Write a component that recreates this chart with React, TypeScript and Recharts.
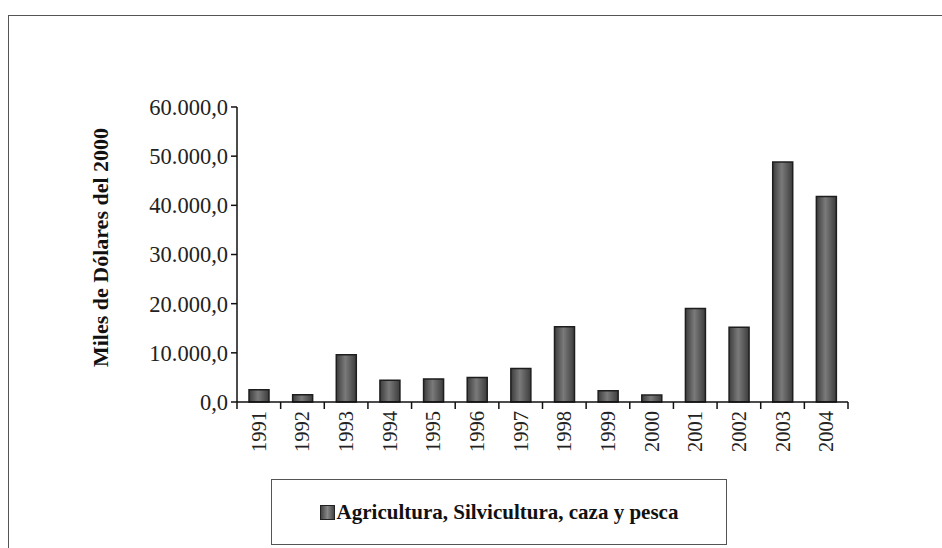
import React from 'react';
import { BarChart, Bar, XAxis, YAxis, Legend } from 'recharts';

const years = ['1991', '1992', '1993', '1994', '1995', '1996', '1997', '1998', '1999', '2000', '2001', '2002', '2003', '2004'];
const agricultura = [2500, 1450, 9600, 4400, 4700, 5000, 6800, 15300, 2300, 1400, 19000, 15200, 48800, 41800];
const yTicks = [0, 10000, 20000, 30000, 40000, 50000, 60000];
const seriesName = 'Agricultura, Silvicultura, caza y pesca';
const yLabel = 'Miles de Dólares del 2000';

const data = years.map((y, i) => ({ year: y, value: agricultura[i] }));

const FONT = '"Liberation Serif", "DejaVu Serif", serif';

function fmt(v: number): string {
  const int = Math.round(v).toString().replace(/\B(?=(\d{3})+(?!\d))/g, '.');
  return int + ',0';
}

const XTick = (props: any) => {
  const { x, y, payload, index, visibleTicksCount } = props;
  const half = payload && payload.offset ? payload.offset : 0;
  const isLast = index === visibleTicksCount - 1;
  return (
    <g>
      <line x1={x - half} y1={y} x2={x - half} y2={y + 7} stroke="#111" strokeWidth={1.5} />
      {isLast && <line x1={x + half} y1={y} x2={x + half} y2={y + 7} stroke="#111" strokeWidth={1.5} />}
      <text
        x={x}
        y={y + 9}
        transform={`rotate(-90 ${x} ${y + 9})`}
        textAnchor="end"
        dominantBaseline="central"
        style={{ fontFamily: FONT, fontSize: 20.5 }}
        fill="#222"
      >
        {payload.value}
      </text>
    </g>
  );
};

const LegendBox = () => (
  <div
    style={{
      width: 456,
      height: 66,
      border: '1.5px solid #555',
      boxSizing: 'border-box',
      display: 'flex',
      alignItems: 'center',
      justifyContent: 'center',
      fontFamily: FONT,
      fontWeight: 'bold',
      fontSize: 21,
      color: '#111',
      background: '#fff',
    }}
  >
    <span
      style={{
        display: 'inline-block',
        width: 13,
        height: 13,
        background: 'linear-gradient(90deg, #444, #888 50%, #444)',
        border: '1px solid #222',
        marginRight: 2,
      }}
    />
    <span>{seriesName}</span>
  </div>
);

export default function App() {
  return (
    <div style={{ position: 'absolute', left: 0, top: 0, width: 942, height: 548, background: '#fff', overflow: 'hidden' }}>
      <div
        style={{
          position: 'absolute',
          left: 8,
          top: 15,
          width: 960,
          height: 560,
          borderTop: '1.5px solid #555',
          borderLeft: '1.5px solid #555',
        }}
      />
      <div style={{ position: 'absolute', left: 0, top: 0 }}>
        <BarChart
          width={942}
          height={548}
          data={data}
          margin={{ top: 107, right: 94, bottom: 96, left: 157 }}
        >
          <defs>
            <linearGradient id="barGrad" x1="0" y1="0" x2="1" y2="0">
              <stop offset="0%" stopColor="#3c3c3c" />
              <stop offset="45%" stopColor="#7a7a7a" />
              <stop offset="100%" stopColor="#3c3c3c" />
            </linearGradient>
          </defs>
          <XAxis
            dataKey="year"
            tick={<XTick />}
            tickLine={false}
            tickSize={0}
            tickMargin={0}
            axisLine={{ stroke: '#111', strokeWidth: 1.5 }}
            interval={0}
            height={50}
          />
          <XAxis
            xAxisId="top"
            orientation="top"
            dataKey="year"
            tick={false}
            tickLine={false}
            axisLine={{ stroke: '#a4a4bc', strokeWidth: 2 }}
            height={0}
          />
          <YAxis
            domain={[0, 60000]}
            ticks={yTicks}
            tickFormatter={fmt}
            tick={{ fontFamily: FONT, fontSize: 22.5, fill: '#222' }}
            tickLine={{ stroke: '#111', strokeWidth: 1.5 }}
            tickSize={6}
            tickMargin={3}
            axisLine={{ stroke: '#111', strokeWidth: 1.5 }}
            width={80}
            label={{
              value: yLabel,
              angle: -90,
              position: 'insideLeft',
              offset: 0,
              dx: -57,
              dy: -7,
              style: { fontFamily: FONT, fontSize: 22, fontWeight: 'bold', fill: '#111', textAnchor: 'middle' },
            }}
          />
          <YAxis
            yAxisId="right"
            orientation="right"
            domain={[0, 60000]}
            ticks={yTicks}
            tick={false}
            tickLine={false}
            axisLine={{ stroke: '#a4a4bc', strokeWidth: 2 }}
            width={0}
          />
          <Legend
            layout="vertical"
            verticalAlign="middle"
            align="center"
            content={<LegendBox />}
            wrapperStyle={{ position: 'absolute', left: 271, top: 479, width: 456, height: 66 }}
          />
          <Bar
            dataKey="value"
            name={seriesName}
            fill="url(#barGrad)"
            stroke="#1e1e1e"
            strokeWidth={1.5}
            barSize={20}
            isAnimationActive={false}
          />
        </BarChart>
      </div>
    </div>
  );
}
